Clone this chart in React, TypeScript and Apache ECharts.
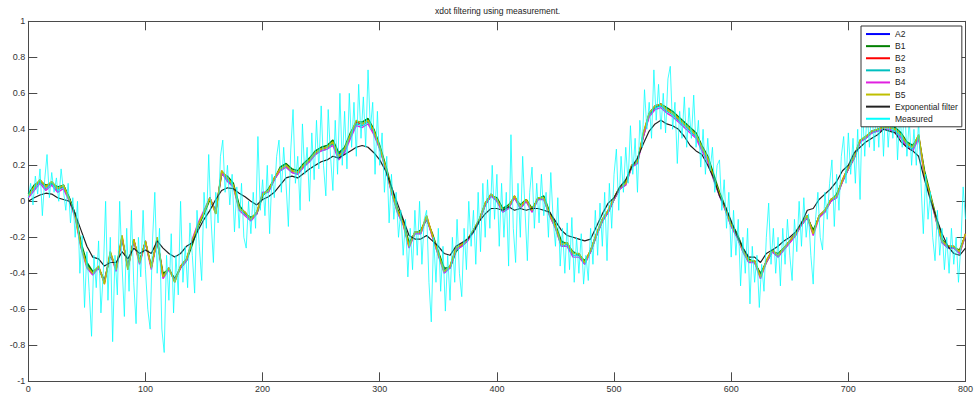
import React, { useEffect, useRef } from "react";
import * as echarts from "echarts";

// Sample spacing (x units) of the filtered curves and of the measurement
const FILTER_STEP = 5;
const MEAS_STEP = 2;

const X_TICKS = { min: 0, max: 800, interval: 100 };
const Y_TICKS = { min: -1, max: 1, interval: 0.2 };

const seriesNames = ["A2", "B1", "B2", "B3", "B4", "B5", "Exponential filter", "Measured"];

const a2 = [0.04,0.08,0.11,0.08,0.10,0.07,0.09,0.02,-0.07,-0.24,
 -0.35,-0.40,-0.37,-0.45,-0.29,-0.38,-0.20,-0.37,-0.21,-0.34,
 -0.22,-0.37,-0.21,-0.41,-0.37,-0.44,-0.36,-0.32,-0.23,-0.13,
 -0.06,0.02,-0.06,0.16,0.13,0.09,-0.03,-0.06,-0.10,-0.06,
 0.04,0.06,0.13,0.18,0.20,0.17,0.16,0.20,0.23,0.27,
 0.29,0.30,0.33,0.26,0.29,0.37,0.44,0.43,0.45,0.39,
 0.30,0.19,0.07,-0.05,-0.12,-0.24,-0.17,-0.17,-0.09,-0.19,
 -0.29,-0.38,-0.36,-0.27,-0.24,-0.21,-0.16,-0.10,-0.01,0.04,
 0.01,-0.05,-0.03,0.03,-0.03,0.01,-0.05,0.02,0.02,-0.07,
 -0.14,-0.23,-0.23,-0.29,-0.29,-0.34,-0.27,-0.18,-0.10,-0.05,
 0.02,0.08,0.10,0.20,0.22,0.37,0.49,0.53,0.54,0.51,
 0.49,0.46,0.43,0.40,0.37,0.30,0.24,0.14,0.04,-0.04,
 -0.13,-0.19,-0.27,-0.33,-0.33,-0.41,-0.33,-0.27,-0.30,-0.26,
 -0.22,-0.18,-0.12,-0.08,-0.17,-0.08,-0.05,0.01,0.03,0.12,
 0.19,0.25,0.34,0.36,0.39,0.40,0.41,0.41,0.40,0.37,
 0.32,0.30,0.36,0.16,0.03,-0.10,-0.22,-0.25,-0.25,-0.28,
 -0.18];

const b1 = [0.04,0.09,0.11,0.09,0.10,0.08,0.09,0.02,-0.07,-0.23,
 -0.34,-0.39,-0.37,-0.44,-0.30,-0.37,-0.21,-0.36,-0.22,-0.33,
 -0.23,-0.36,-0.22,-0.40,-0.38,-0.43,-0.37,-0.33,-0.24,-0.14,
 -0.07,0.01,-0.05,0.15,0.14,0.10,-0.02,-0.07,-0.09,-0.07,
 0.03,0.07,0.12,0.19,0.21,0.18,0.17,0.21,0.24,0.28,
 0.30,0.31,0.34,0.27,0.30,0.38,0.44,0.44,0.46,0.40,
 0.31,0.20,0.08,-0.04,-0.11,-0.23,-0.18,-0.16,-0.10,-0.18,
 -0.28,-0.37,-0.37,-0.28,-0.24,-0.21,-0.17,-0.11,-0.02,0.03,
 0.02,-0.04,-0.02,0.02,-0.02,0.01,-0.04,0.01,0.03,-0.06,
 -0.13,-0.22,-0.24,-0.28,-0.30,-0.33,-0.28,-0.19,-0.11,-0.06,
 0.01,0.07,0.11,0.19,0.23,0.36,0.48,0.52,0.54,0.52,
 0.50,0.47,0.44,0.41,0.38,0.31,0.25,0.15,0.05,-0.03,
 -0.12,-0.18,-0.26,-0.32,-0.34,-0.40,-0.34,-0.28,-0.29,-0.26,
 -0.22,-0.18,-0.13,-0.09,-0.16,-0.09,-0.05,0.00,0.04,0.11,
 0.18,0.24,0.33,0.36,0.38,0.40,0.41,0.42,0.41,0.38,
 0.33,0.31,0.36,0.17,0.04,-0.09,-0.21,-0.25,-0.26,-0.27,
 -0.19];

const b2 = [0.03,0.08,0.12,0.08,0.11,0.07,0.08,0.01,-0.08,-0.25,
 -0.36,-0.40,-0.36,-0.46,-0.28,-0.38,-0.19,-0.38,-0.21,-0.34,
 -0.22,-0.37,-0.20,-0.42,-0.37,-0.45,-0.36,-0.32,-0.22,-0.13,
 -0.06,0.02,-0.07,0.17,0.13,0.09,-0.04,-0.06,-0.10,-0.06,
 0.04,0.06,0.13,0.18,0.20,0.17,0.16,0.20,0.23,0.27,
 0.29,0.30,0.32,0.25,0.29,0.37,0.44,0.43,0.45,0.39,
 0.30,0.19,0.06,-0.05,-0.12,-0.25,-0.17,-0.17,-0.08,-0.19,
 -0.29,-0.39,-0.36,-0.26,-0.24,-0.21,-0.16,-0.10,-0.01,0.04,
 0.01,-0.05,-0.03,0.03,-0.03,0.01,-0.05,0.02,0.02,-0.07,
 -0.14,-0.24,-0.23,-0.29,-0.29,-0.34,-0.27,-0.18,-0.10,-0.05,
 0.02,0.08,0.10,0.20,0.22,0.38,0.49,0.53,0.54,0.51,
 0.49,0.46,0.43,0.40,0.37,0.30,0.24,0.13,0.04,-0.04,
 -0.13,-0.19,-0.27,-0.33,-0.33,-0.42,-0.33,-0.27,-0.30,-0.26,
 -0.22,-0.18,-0.12,-0.08,-0.18,-0.08,-0.05,0.01,0.03,0.12,
 0.19,0.25,0.34,0.36,0.39,0.40,0.41,0.41,0.40,0.37,
 0.32,0.30,0.37,0.15,0.03,-0.10,-0.22,-0.25,-0.25,-0.28,
 -0.18];

const b3 = [0.03,0.07,0.11,0.07,0.10,0.06,0.08,0.01,-0.08,-0.25,
 -0.36,-0.40,-0.37,-0.45,-0.29,-0.38,-0.20,-0.37,-0.22,-0.34,
 -0.23,-0.37,-0.21,-0.42,-0.38,-0.44,-0.37,-0.33,-0.22,-0.13,
 -0.06,0.02,-0.06,0.16,0.12,0.08,-0.04,-0.07,-0.10,-0.07,
 0.04,0.05,0.12,0.17,0.19,0.16,0.15,0.19,0.22,0.26,
 0.28,0.29,0.32,0.24,0.28,0.36,0.43,0.42,0.44,0.38,
 0.29,0.18,0.05,-0.06,-0.13,-0.25,-0.18,-0.18,-0.09,-0.20,
 -0.30,-0.39,-0.37,-0.27,-0.25,-0.22,-0.17,-0.11,-0.02,0.03,
 0.00,-0.06,-0.04,0.02,-0.04,0.00,-0.06,0.01,0.01,-0.08,
 -0.15,-0.25,-0.24,-0.30,-0.30,-0.35,-0.28,-0.19,-0.11,-0.06,
 0.01,0.07,0.09,0.19,0.21,0.37,0.48,0.52,0.53,0.50,
 0.48,0.45,0.42,0.39,0.36,0.29,0.23,0.12,0.03,-0.05,
 -0.14,-0.20,-0.28,-0.34,-0.34,-0.42,-0.34,-0.28,-0.31,-0.27,
 -0.23,-0.19,-0.13,-0.09,-0.18,-0.09,-0.06,0.00,0.02,0.11,
 0.18,0.24,0.33,0.35,0.38,0.39,0.40,0.40,0.39,0.36,
 0.31,0.29,0.36,0.14,0.02,-0.11,-0.23,-0.26,-0.26,-0.29,
 -0.19];

const b4 = [0.02,0.06,0.10,0.06,0.09,0.05,0.07,0.00,-0.09,-0.26,
 -0.37,-0.41,-0.37,-0.45,-0.29,-0.39,-0.20,-0.37,-0.22,-0.35,
 -0.23,-0.38,-0.21,-0.43,-0.38,-0.44,-0.37,-0.33,-0.21,-0.12,
 -0.05,0.02,-0.06,0.16,0.11,0.08,-0.05,-0.08,-0.11,-0.07,
 0.05,0.05,0.12,0.17,0.19,0.16,0.15,0.19,0.22,0.26,
 0.28,0.29,0.31,0.23,0.27,0.35,0.42,0.41,0.43,0.37,
 0.29,0.18,0.05,-0.06,-0.13,-0.26,-0.18,-0.18,-0.09,-0.20,
 -0.30,-0.40,-0.37,-0.27,-0.25,-0.22,-0.17,-0.11,-0.02,0.03,
 0.00,-0.06,-0.04,0.02,-0.04,0.00,-0.06,0.01,0.01,-0.08,
 -0.15,-0.25,-0.25,-0.31,-0.31,-0.35,-0.28,-0.19,-0.11,-0.06,
 0.01,0.07,0.09,0.19,0.21,0.36,0.47,0.51,0.52,0.49,
 0.47,0.44,0.41,0.38,0.35,0.28,0.22,0.12,0.03,-0.05,
 -0.14,-0.20,-0.28,-0.34,-0.34,-0.43,-0.34,-0.28,-0.31,-0.27,
 -0.23,-0.19,-0.13,-0.09,-0.19,-0.09,-0.06,0.00,0.02,0.11,
 0.18,0.24,0.33,0.35,0.38,0.39,0.40,0.40,0.38,0.35,
 0.30,0.28,0.35,0.14,0.02,-0.11,-0.23,-0.26,-0.26,-0.29,
 -0.19];

const b5 = [0.03,0.08,0.12,0.08,0.11,0.07,0.09,0.01,-0.08,-0.25,
 -0.36,-0.40,-0.36,-0.46,-0.28,-0.38,-0.19,-0.38,-0.21,-0.34,
 -0.22,-0.37,-0.20,-0.42,-0.37,-0.45,-0.36,-0.32,-0.22,-0.13,
 -0.06,0.02,-0.07,0.17,0.13,0.09,-0.04,-0.06,-0.10,-0.06,
 0.04,0.06,0.13,0.18,0.20,0.17,0.16,0.20,0.23,0.27,
 0.29,0.30,0.33,0.25,0.29,0.37,0.45,0.43,0.45,0.39,
 0.30,0.19,0.06,-0.05,-0.12,-0.25,-0.17,-0.17,-0.08,-0.19,
 -0.29,-0.39,-0.36,-0.26,-0.24,-0.21,-0.16,-0.10,-0.01,0.04,
 0.01,-0.05,-0.03,0.03,-0.03,0.01,-0.05,0.02,0.02,-0.07,
 -0.14,-0.24,-0.23,-0.29,-0.29,-0.34,-0.27,-0.18,-0.10,-0.05,
 0.02,0.08,0.10,0.20,0.22,0.38,0.49,0.53,0.54,0.51,
 0.49,0.46,0.43,0.40,0.37,0.30,0.24,0.13,0.04,-0.04,
 -0.13,-0.19,-0.27,-0.33,-0.33,-0.42,-0.33,-0.27,-0.30,-0.26,
 -0.22,-0.18,-0.12,-0.08,-0.18,-0.08,-0.05,0.01,0.03,0.12,
 0.19,0.25,0.34,0.36,0.39,0.40,0.41,0.41,0.40,0.37,
 0.32,0.30,0.37,0.15,0.03,-0.10,-0.22,-0.25,-0.25,-0.28,
 -0.18];

const expFilter = [0.00,0.02,0.035,0.045,0.04,0.02,0.01,0.00,-0.07,-0.16,
 -0.25,-0.31,-0.32,-0.36,-0.34,-0.34,-0.28,-0.32,-0.26,-0.29,
 -0.27,-0.29,-0.22,-0.26,-0.29,-0.31,-0.29,-0.25,-0.23,-0.16,
 -0.10,-0.05,0.01,0.06,0.075,0.07,0.045,0.025,0.00,-0.02,
 0.01,0.025,0.05,0.09,0.13,0.14,0.13,0.155,0.18,0.20,
 0.22,0.23,0.25,0.24,0.26,0.28,0.30,0.31,0.30,0.27,
 0.23,0.17,0.08,-0.01,-0.10,-0.19,-0.21,-0.21,-0.19,-0.22,
 -0.25,-0.29,-0.30,-0.25,-0.23,-0.21,-0.17,-0.11,-0.07,-0.04,
 -0.04,-0.05,-0.03,-0.05,-0.04,-0.05,-0.04,-0.04,-0.05,-0.06,
 -0.11,-0.16,-0.19,-0.20,-0.21,-0.22,-0.21,-0.14,-0.07,-0.01,
 0.02,0.08,0.12,0.19,0.24,0.32,0.39,0.43,0.45,0.43,
 0.42,0.40,0.36,0.31,0.28,0.26,0.20,0.13,0.03,-0.03,
 -0.11,-0.19,-0.26,-0.31,-0.31,-0.34,-0.29,-0.27,-0.25,-0.22,
 -0.20,-0.17,-0.12,-0.05,-0.04,0.01,0.04,0.07,0.11,0.17,
 0.20,0.27,0.30,0.33,0.35,0.37,0.40,0.39,0.38,0.33,
 0.30,0.28,0.25,0.12,0.01,-0.09,-0.18,-0.25,-0.29,-0.30,
 -0.26];

const measured = [0.02,0.10,-0.02,0.14,0.04,0.18,-0.08,0.12,0.26,0.02,
 0.16,0.05,0.13,0.00,0.18,0.06,-0.05,0.10,-0.12,0.02,
 -0.20,0.00,-0.40,-0.19,-0.59,-0.28,-0.50,-0.75,-0.30,-0.48,
 -0.22,-0.62,-0.40,0.00,-0.55,-0.20,-0.78,-0.30,-0.52,0.00,
 -0.35,-0.64,-0.15,-0.50,-0.05,-0.45,-0.68,-0.20,-0.42,-0.05,
 -0.38,-0.60,-0.71,-0.22,0.05,-0.40,-0.15,-0.71,-0.84,-0.30,
 -0.55,-0.18,-0.62,-0.30,-0.52,0.00,-0.45,-0.25,-0.48,-0.12,
 -0.30,-0.51,-0.05,-0.25,-0.44,0.05,-0.15,0.26,-0.10,-0.34,
 0.05,-0.12,0.25,0.34,0.05,0.20,-0.02,0.15,-0.17,0.08,
 -0.15,0.10,-0.20,-0.26,0.00,-0.18,0.05,-0.15,0.36,-0.05,
 0.12,-0.08,0.20,-0.18,0.15,0.02,0.25,0.34,0.05,0.30,
 0.10,-0.14,0.28,0.51,0.10,0.25,-0.05,0.43,0.15,0.30,
 0.00,0.38,0.12,0.45,0.18,0.53,0.20,0.03,0.51,0.25,
 0.06,0.45,0.15,0.60,0.20,0.50,0.18,0.60,0.30,0.55,
 0.25,0.65,0.35,0.58,0.30,0.73,0.40,0.55,0.15,0.50,
 0.20,0.38,0.05,0.25,-0.12,0.15,-0.10,0.05,-0.20,-0.05,
 -0.30,-0.10,-0.42,-0.15,-0.38,-0.05,-0.30,0.00,-0.35,-0.10,
 -0.05,-0.45,-0.67,-0.20,-0.45,-0.15,-0.50,-0.25,-0.61,-0.30,
 -0.55,-0.20,-0.45,-0.10,-0.40,-0.53,-0.15,-0.38,0.00,-0.25,
 -0.05,-0.35,0.05,-0.28,0.10,-0.20,0.12,-0.15,0.20,-0.10,
 0.15,-0.25,0.10,-0.20,0.05,-0.36,0.37,-0.15,-0.34,0.10,
 -0.20,0.25,-0.05,-0.33,0.05,0.19,-0.15,0.10,-0.12,0.15,
 -0.08,0.05,-0.20,0.16,-0.10,-0.25,0.02,-0.36,-0.15,-0.40,
 -0.12,-0.38,-0.09,-0.45,-0.20,-0.40,-0.18,-0.46,-0.30,-0.44,
 -0.15,-0.35,-0.05,-0.30,-0.01,-0.25,0.05,-0.33,0.10,-0.15,
 0.15,0.29,-0.05,0.25,0.05,0.30,0.10,0.42,0.15,0.35,
 0.05,0.45,0.30,0.62,0.40,0.55,0.35,0.73,0.45,0.65,
 0.40,0.60,0.38,0.68,0.75,0.40,0.55,0.21,0.50,0.35,
 0.58,0.30,0.52,0.35,0.59,0.30,0.45,0.19,0.40,0.15,
 0.35,0.17,0.30,0.05,0.20,0.23,-0.05,0.12,-0.15,0.05,
 -0.31,-0.05,-0.30,-0.10,-0.47,-0.20,-0.40,-0.15,-0.57,-0.25,
 -0.45,-0.30,-0.59,-0.35,-0.50,-0.20,-0.01,-0.35,-0.15,-0.40,
 -0.20,-0.47,-0.15,-0.35,-0.10,-0.30,-0.44,-0.10,-0.28,0.00,
 -0.25,0.02,-0.20,-0.07,-0.30,-0.46,-0.10,0.05,-0.20,-0.27,
 0.05,-0.10,0.10,0.23,-0.14,0.15,-0.05,0.25,0.36,0.10,
 0.38,0.15,0.35,0.10,0.40,0.01,0.54,0.25,0.50,0.30,
 0.55,0.28,0.52,0.30,0.60,0.25,0.55,0.30,0.50,0.35,
 0.58,0.23,0.50,0.30,0.55,0.25,0.45,0.20,0.40,0.20,
 0.45,0.10,-0.18,0.15,-0.10,0.05,-0.20,-0.33,-0.05,-0.30,
 -0.15,-0.38,-0.20,-0.40,-0.15,-0.35,-0.20,-0.45,-0.25,0.08,
 -0.10];

const FONT = "'Liberation Sans', Arial, Helvetica, sans-serif";

function pairs(values: number[], step: number) {
  return values.map((v, i) => [i * step, v]);
}

export default function App() {
  const ref = useRef<HTMLDivElement>(null);

  useEffect(() => {
    if (!ref.current) return;
    const chart = echarts.init(ref.current, null, { renderer: "svg" });

    const axisLine = { show: true, onZero: false, lineStyle: { color: "#4a4a4a", width: 1 } };
    const tickIn = { show: true, inside: true, length: 9, lineStyle: { color: "#4a4a4a", width: 1 } };
    const label = { fontSize: 9, color: "#333", fontFamily: FONT };

    const lineSeries = (name: string, data: number[][], color: string, width: number) => ({
      name,
      type: "line",
      data,
      symbol: "none",
      showSymbol: false,
      color,
      lineStyle: { color, width },
      emphasis: { disabled: true },
      silent: true,
    });

    const option = {
      animation: false,
      backgroundColor: "#ffffff",
      textStyle: { fontFamily: FONT },
      title: {
        text: "xdot filtering using measurement.",
        left: 497.6,
        top: 6,
        padding: 0,
        textAlign: "center",
        textStyle: { fontSize: 8.5, fontWeight: "normal", color: "#222", fontFamily: FONT },
      },
      grid: { left: 28.3, right: 9, top: 21.3, bottom: 15.7, containLabel: false },
      legend: {
        orient: "vertical",
        left: 861,
        top: 26,
        padding: [2, 4, 2, 5],
        itemGap: 0,
        itemWidth: 24,
        itemHeight: 2,
        icon: "rect",
        backgroundColor: "#ffffff",
        borderColor: "#333",
        borderWidth: 1,
        borderRadius: 0,
        z: 10,
        data: seriesNames,
        textStyle: { fontSize: 8.5, color: "#222", lineHeight: 12.1, fontFamily: FONT },
      },
      xAxis: [
        {
          type: "value",
          position: "bottom",
          min: X_TICKS.min,
          max: X_TICKS.max,
          interval: X_TICKS.interval,
          axisLine,
          axisTick: tickIn,
          axisLabel: { ...label, margin: 3 },
          splitLine: { show: false },
        },
        {
          type: "value",
          position: "top",
          min: X_TICKS.min,
          max: X_TICKS.max,
          interval: X_TICKS.interval,
          axisLine,
          axisTick: tickIn,
          axisLabel: { show: false },
          splitLine: { show: false },
        },
      ],
      yAxis: [
        {
          type: "value",
          position: "left",
          min: Y_TICKS.min,
          max: Y_TICKS.max,
          interval: Y_TICKS.interval,
          axisLine,
          axisTick: tickIn,
          axisLabel: { ...label, margin: 3 },
          splitLine: { show: false },
        },
        {
          type: "value",
          position: "right",
          min: Y_TICKS.min,
          max: Y_TICKS.max,
          interval: Y_TICKS.interval,
          axisLine,
          axisTick: tickIn,
          axisLabel: { show: false },
          splitLine: { show: false },
        },
      ],
      series: [
        lineSeries("A2", pairs(a2, FILTER_STEP), "#0000ff", 1.1),
        lineSeries("B1", pairs(b1, FILTER_STEP), "#008000", 1.5),
        lineSeries("B2", pairs(b2, FILTER_STEP), "#ff0000", 1.1),
        lineSeries("B3", pairs(b3, FILTER_STEP), "#00bfbf", 1.1),
        lineSeries("B4", pairs(b4, FILTER_STEP), "#e020e0", 1.4),
        lineSeries("B5", pairs(b5, FILTER_STEP), "#bfbf00", 1.5),
        lineSeries("Exponential filter", pairs(expFilter, FILTER_STEP), "#222222", 1.2),
        lineSeries("Measured", pairs(measured, MEAS_STEP), "#00ffff", 0.75),
      ],
    };

    chart.setOption(option as any);
    return () => chart.dispose();
  }, []);

  return (
    <div
      ref={ref}
      style={{ position: "fixed", left: 0, top: 0, width: 976, height: 397, background: "#fff" }}
    />
  );
}
